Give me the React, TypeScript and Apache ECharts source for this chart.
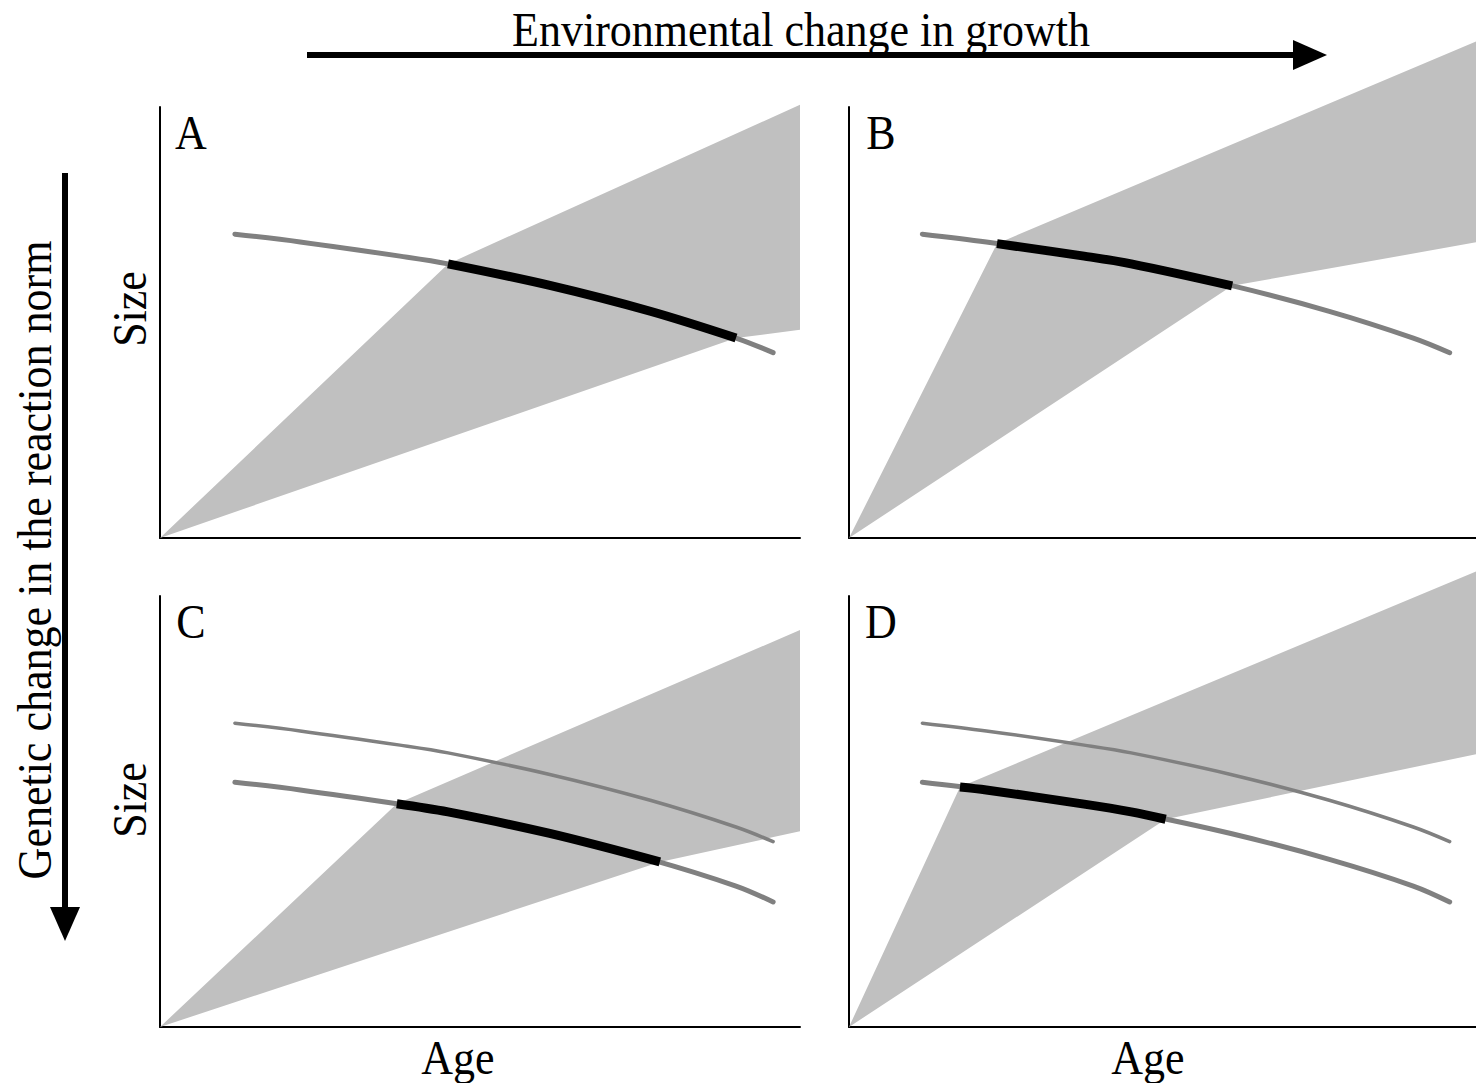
import React, { useEffect, useRef } from "react";
import * as echarts from "echarts";

// Reaction norms (age, size), in panel units 0..100
const baselineNorm: [number, number][] = [
  [11.7, 70.5], [21.9, 68.7], [37.5, 65.4], [45.0, 63.6],
  [60.9, 58.6], [76.6, 52.6], [90.0, 46.4], [95.8, 43.0],
];
const shiftedNorm: [number, number][] = [
  [11.7, 56.8], [21.9, 55.0], [37.5, 51.7], [45.0, 49.9],
  [60.9, 44.9], [76.6, 38.9], [90.0, 32.7], [95.8, 29.0],
];

// Portions of the norms selected by the growth environment
const selectedA: [number, number][] = [[45.0, 63.6], [60.9, 58.6], [76.6, 52.6], [90.0, 46.4]];
const selectedB: [number, number][] = [[23.6, 68.3], [37.5, 65.4], [45.0, 63.6], [61.1, 58.5]];
const selectedC: [number, number][] = [[37.0, 51.8], [45.0, 49.9], [60.9, 44.9], [78.1, 38.3]];
const selectedD: [number, number][] = [[17.7, 55.7], [21.9, 55.0], [37.5, 51.7], [45.0, 49.9], [50.5, 48.2]];

// Growth-trajectory envelopes (polygon vertices)
const wedgeA: [number, number][] = [[0, 0], [45.0, 63.6], [100, 100.5], [100, 48.3], [90.0, 46.4]];
const wedgeB: [number, number][] = [[0, 0], [23.6, 68.3], [100, 115.2], [100, 68.6], [61.1, 58.5]];
const wedgeC: [number, number][] = [[0, 0], [37.0, 51.8], [100, 92.1], [100, 45.4], [78.1, 38.3]];
const wedgeD: [number, number][] = [[0, 0], [17.7, 55.7], [100, 105.7], [100, 63.3], [50.5, 48.2]];

const panelLetters = ["A", "B", "C", "D"];
const titleTop = "Environmental change in growth";
const titleLeft = "Genetic change in the reaction norm";
const yName = "Size";
const xName = "Age";

const FONT = '"Liberation Serif", "Times New Roman", serif';
const WEDGE = "#c0c0c0";
const NORM = "#808080";

export default function App() {
  const ref = useRef<HTMLDivElement>(null);

  useEffect(() => {
    if (!ref.current) return;
    const chart = echarts.init(ref.current, undefined, { renderer: "svg" });

    const grids = [
      { left: 160, top: 107, width: 640, height: 431 },
      { left: 849, top: 107, width: 640, height: 431 },
      { left: 160, top: 596, width: 640, height: 431 },
      { left: 849, top: 596, width: 640, height: 431 },
    ];

    const axisBase = {
      type: "value" as const,
      min: 0,
      max: 100,
      axisLine: { show: true, onZero: false, lineStyle: { color: "#000", width: 2 } },
      axisTick: { show: false },
      axisLabel: { show: false },
      splitLine: { show: false },
    };

    const wedges = [wedgeA, wedgeB, wedgeC, wedgeD];
    const selected = [selectedA, selectedB, selectedC, selectedD];

    const series: any[] = [];
    wedges.forEach((poly, i) => {
      series.push({
        type: "custom",
        xAxisIndex: i,
        yAxisIndex: i,
        clip: false,
        z: 1,
        data: [[0, 0]],
        renderItem: (_params: any, api: any) => ({
          type: "polygon",
          shape: { points: poly.map((p) => api.coord(p)) },
          style: { fill: WEDGE, stroke: null },
        }),
      });
    });

    const normLine = (data: [number, number][], i: number, width: number, color: string, z: number, cap: string) => ({
      type: "line",
      xAxisIndex: i,
      yAxisIndex: i,
      data,
      smooth: 0.35,
      symbol: "none",
      clip: false,
      z,
      silent: true,
      lineStyle: { color, width, cap },
    });

    // Original norm in every panel
    series.push(normLine(baselineNorm, 0, 5, NORM, 3, "round"));
    series.push(normLine(baselineNorm, 1, 5, NORM, 3, "round"));
    series.push(normLine(baselineNorm, 2, 3.5, NORM, 3, "round"));
    series.push(normLine(baselineNorm, 3, 3.5, NORM, 3, "round"));
    // Genetically shifted norm in the lower panels
    series.push(normLine(shiftedNorm, 2, 5, NORM, 3, "round"));
    series.push(normLine(shiftedNorm, 3, 5, NORM, 3, "round"));
    // Selected parts
    selected.forEach((seg, i) => {
      series.push(normLine(seg, i, 9, "#000", 4, "butt"));
    });

    const text = (t: string, x: number, y: number, rotation = 0) => ({
      type: "text",
      x,
      y,
      rotation,
      scaleY: 1.08,
      z: 10,
      style: {
        text: t,
        font: `44px ${FONT}`,
        fill: "#000",
        align: "center",
        verticalAlign: "middle",
      },
    });

    const graphic: any[] = [
      text(titleTop, 801, 30),
      {
        type: "line",
        shape: { x1: 307, y1: 55, x2: 1296, y2: 55 },
        style: { stroke: "#000", lineWidth: 6 },
      },
      {
        type: "polygon",
        shape: { points: [[1293, 40], [1327, 55], [1293, 70]] },
        style: { fill: "#000" },
      },
      text(titleLeft, 35, 560, Math.PI / 2),
      {
        type: "line",
        shape: { x1: 65, y1: 173, x2: 65, y2: 910 },
        style: { stroke: "#000", lineWidth: 6 },
      },
      {
        type: "polygon",
        shape: { points: [[50, 907], [65, 941], [80, 907]] },
        style: { fill: "#000" },
      },
      text(yName, 130, 309, Math.PI / 2),
      text(yName, 130, 800, Math.PI / 2),
      text(xName, 458, 1058),
      text(xName, 1148, 1058),
      text(panelLetters[0], 191, 133),
      text(panelLetters[1], 881, 133),
      text(panelLetters[2], 191, 622),
      text(panelLetters[3], 881, 622),
    ];

    chart.setOption({
      animation: false,
      backgroundColor: "#fff",
      grid: grids,
      xAxis: grids.map((_, i) => ({ ...axisBase, gridIndex: i })),
      yAxis: grids.map((_, i) => ({ ...axisBase, gridIndex: i })),
      series,
      graphic,
    });

    return () => chart.dispose();
  }, []);

  return (
    <div
      ref={ref}
      style={{ position: "fixed", left: 0, top: 0, width: 1476, height: 1083, background: "#fff" }}
    />
  );
}
